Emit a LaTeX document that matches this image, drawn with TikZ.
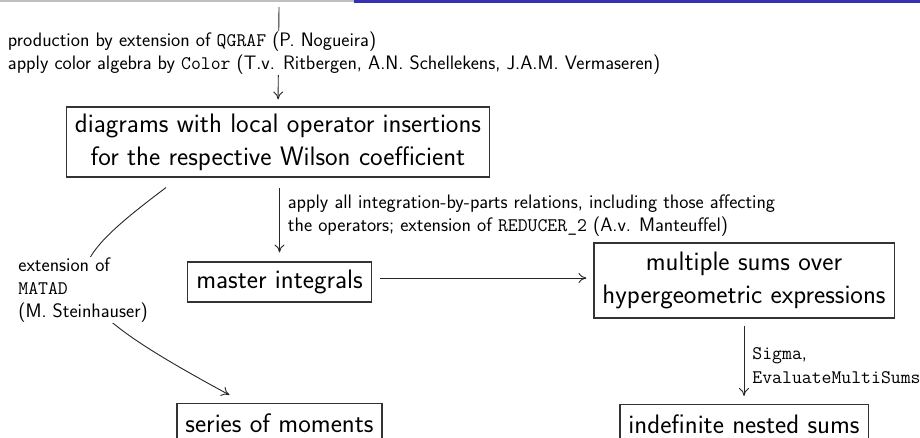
\documentclass[tikz,border=0pt]{standalone}
\usetikzlibrary{arrows.meta}
\definecolor{structblue}{rgb}{0.2,0.2,0.7}
\newcommand\codetxt[1]{{\ttfamily\fontsize{19.2}{23}\selectfont #1}}
\begin{document}
\begin{tikzpicture}[x=1pt,y=-1pt,
  box/.style={draw=black!80, line width=1.1pt, inner xsep=8.5pt, inner ysep=0pt, align=center,
    font=\sffamily\fontsize{26.7}{33}\selectfont},
  lab/.style={align=left, inner sep=1pt, font=\sffamily\fontsize{19.5}{23}\selectfont},
  conn/.style={line width=0.9pt, draw=black!85,
    -{Computer Modern Rightarrow[length=8pt,width=10pt]}}]
\useasboundingbox (0,0) rectangle (920,437);
\clip (0,0) rectangle (920,437);
\fill[black!25] (0,0) rectangle (354,2);
\fill[structblue] (354,0) rectangle (920,2.5);

\node[box, minimum height=70pt] (diag) at (278,142)
  {diagrams with local operator insertions\\for the respective Wilson coefficient};
\node[box, minimum height=40pt] (master) at (279.5,282) {master integrals};
\node[box, minimum height=75pt] (multi) at (744,280.5)
  {multiple sums over\\hypergeometric expressions};
\node[box, minimum height=40pt, anchor=north] (series) at (279.5,403) {series of moments};
\node[box, minimum height=40pt, anchor=north] (indef) at (744,404) {indefinite nested sums};

\coordinate (src) at (279,7);
\draw[conn, shorten >=7pt] (src) -- node[lab, fill=white, anchor=west, pos=0.46, xshift=-272pt]
  {production by extension of \codetxt{QGRAF} (P. Nogueira)\\apply color algebra by \codetxt{Color} (T.v. Ritbergen, A.N. Schellekens, J.A.M. Vermaseren)}
  (diag.south |- diag.north);

\draw[conn, shorten <=10pt, shorten >=9pt] (master.north |- diag.south) --
  node[lab, anchor=west, pos=0.45, xshift=7pt]
  {apply all integration-by-parts relations, including those affecting\\the operators; extension of \codetxt{REDUCER\_2} (A.v. Manteuffel)}
  (master.north);

\draw[conn, shorten <=8pt, shorten >=7pt] ([yshift=4pt]master.east) -- ([yshift=4pt]master.east -| multi.west);

\draw[conn, shorten <=7pt, shorten >=8pt] (multi.south) --
  node[lab, anchor=west, pos=0.55, xshift=7pt, font=\sffamily\fontsize{19.5}{24}\selectfont]
  {\codetxt{Sigma},\\\codetxt{EvaluateMultiSums}}
  (indef.north);

\draw[conn] ([xshift=-112pt,yshift=-10pt]diag.south) .. controls (50,275) and (45,295) ..
  node[lab, fill=white, pos=0.5, xshift=-2pt, yshift=-3.5pt]
  {extension of\\\codetxt{MATAD}\\(M. Steinhauser)}
  ([xshift=-50pt,yshift=8pt]series.north);
\end{tikzpicture}
\end{document}
